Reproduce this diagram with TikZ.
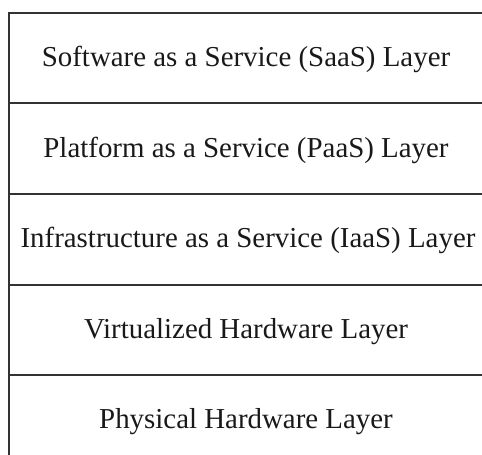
\documentclass[tikz,border=0pt]{standalone}
\usepackage{fontspec}
\setmainfont{Liberation Serif}
\begin{document}
\begin{tikzpicture}[x=1bp,y=-1bp,
  layer/.style={draw=black!80, line width=2bp, rectangle, minimum width=500bp,
    minimum height=90.5bp, anchor=north west, inner sep=0pt},
  lbl/.style={anchor=base, text=black!90, font=\fontsize{29}{34}\selectfont, inner sep=0pt}]
\useasboundingbox (0,0) rectangle (482,455);
\clip (0,0) rectangle (482,455);
\node[layer] (saas) at (8,12) {};
\node[layer] (paas) at (8,102.5) {};
\node[layer] (iaas) at (8,193) {};
\node[layer] (virt) at (8,283.5) {};
\node[layer] (phys) at (8,373.5) {};
\node[lbl] (tsaas) at (246,67) {Software as a Service (SaaS) Layer};
\node[lbl] (tpaas) at (246,157.5) {Platform as a Service (PaaS) Layer};
\node[lbl] (tiaas) at (248,247.5) {Infrastructure as a Service (IaaS) Layer};
\node[lbl] (tvirt) at (246,338) {Virtualized Hardware Layer};
\node[lbl] (tphys) at (246,428) {Physical Hardware Layer};
\end{tikzpicture}
\end{document}
